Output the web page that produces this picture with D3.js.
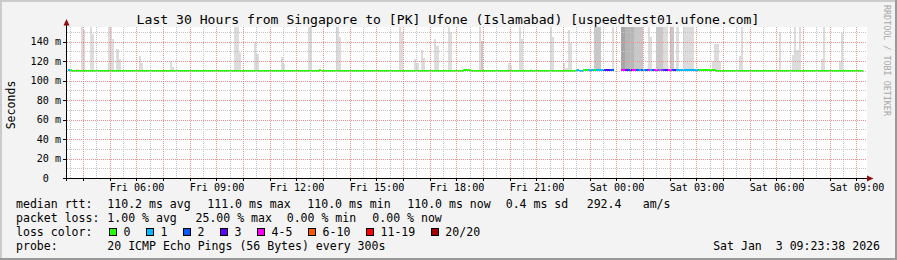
<!doctype html>
<html>
<head>
<meta charset="utf-8">
<title>Smokeping</title>
<script src="https://d3js.org/d3.v7.min.js"></script>
<style>
  body { margin: 0; background: #fff; }
  svg text { font-family: 'DejaVu Sans Mono', monospace; fill: #000; white-space: pre; }
</style>
</head>
<body>
<div id="chart"></div>
<script>
// ---- data ----
const title = 'Last 30 Hours from Singapore to [PK] Ufone (Islamabad) [uspeedtest01.ufone.com]'
const startTime = Date.UTC(2026, 0, 2, 3, 23, 38)
const endTime = Date.UTC(2026, 0, 3, 9, 23, 38)
const firstSlot = Date.UTC(2026, 0, 2, 3, 25, 0)
const slotMinutes = 5
const slotCount = 358
const yTicks = [0, 20, 40, 60, 80, 100, 120, 140]

// median rtt in ms, as runs [fromSlot, toSlot, ms]; slots 246-248 have no data
const medianRuns = [
  [0, 2, 111], [2, 113, 110], [113, 114, 111], [114, 175, 110], [175, 176, 109.5],
  [176, 178, 110], [178, 181, 111], [181, 229, 110], [229, 230, 111], [230, 232, 109.5],
  [232, 246, 111], [249, 292, 111], [292, 358, 110]
]
// lost pings out of 20, as runs [fromSlot, toSlot, lost]; others lost 0
const lossRuns = [
  [0, 1, 1], [229, 232, 1], [234, 237, 1], [238, 241, 1], [241, 242, 2], [242, 244, 3],
  [244, 246, 2], [249, 251, 4], [251, 252, 3], [252, 253, 2], [253, 254, 3], [254, 256, 4],
  [256, 257, 2], [257, 258, 1], [258, 259, 2], [259, 260, 1], [260, 261, 2], [261, 262, 4],
  [262, 263, 1], [263, 264, 2], [264, 266, 4], [266, 267, 1], [267, 268, 4], [268, 269, 2],
  [269, 270, 3], [270, 272, 4], [272, 273, 2], [273, 274, 3], [274, 284, 1]
]
// smoke spikes: slot, highest ping (ms), shade level (0 light .. 3 dark)
const spikeSlot = [4, 6, 7, 10, 11, 18, 19, 20, 22, 23, 32, 33, 46, 47, 75, 76, 77, 84, 85, 96, 97,
  108, 109, 121, 122, 149, 150, 156, 157, 159, 160, 165, 166, 171, 172, 185, 186, 198, 199,
  203, 204, 208, 217, 218, 223, 224, 225, 226, 237, 238, 239, 245, 249, 250, 251, 252, 253,
  254, 255, 256, 257, 258, 261, 262, 265, 266, 267, 268, 269, 271, 272, 274, 277, 278, 279,
  280, 281, 290, 291, 292, 293, 302, 303, 320, 326, 327, 328, 329, 339, 340, 347, 348]
const spikeTop = [112, 155, 152, 155, 148, 155, 155, 143, 132, 122, 125, 118, 120, 114, 155, 155, 128, 140, 127, 124, 117,
  155, 155, 155, 145, 155, 150, 122, 118, 131, 123, 143, 135, 155, 150, 155, 141, 118, 115,
  155, 143, 112, 155, 145, 118, 113, 152, 139, 155, 155, 155, 155, 155, 155, 155, 155, 155,
  155, 155, 155, 155, 155, 155, 145, 155, 155, 155, 155, 155, 155, 155, 155, 155, 155, 155,
  155, 155, 120, 138, 138, 120, 125, 155, 150, 126, 155, 131, 155, 122, 155, 120, 149]
const spikeShade = [0, 0, 0, 0, 0, 0, 0, 0, 0, 0, 0, 0, 0, 0, 0, 0, 0, 0, 0, 0, 0,
  0, 0, 0, 0, 0, 0, 0, 0, 0, 0, 0, 0, 0, 0, 0, 1, 0, 0,
  0, 0, 0, 0, 0, 0, 0, 0, 0, 1, 1, 1, 0, 3, 3, 2, 2, 2,
  2, 1, 1, 1, 1, 0, 0, 1, 1, 1, 0, 0, 1, 1, 0, 0, 0, 0,
  0, 0, 0, 0, 0, 0, 0, 0, 0, 0, 0, 0, 0, 0, 0, 0, 0]

const lossLabels = ['0', '1', '2', '3', '4-5', '6-10', '11-19', '20/20']
const lossColors = ['#26ff00', '#00b8ff', '#0059ff', '#5e00ff', '#ff00ff', '#ff5500', '#ff0000', '#a10000']
const rttStats = ['110.2 ms avg', '111.0 ms max', '110.0 ms min', '110.0 ms now', '0.4 ms sd', '292.4', 'am/s']
const lossStats = ['1.00 % avg', '25.00 % max', '0.00 % min', '0.00 % now']
const probeText = '20 ICMP Echo Pings (56 Bytes) every 300s'
const stampText = 'Sat Jan  3 09:23:38 2026'

// ---- drawing ----
const W = 897, H = 260
const pLeft = 67, pRight = 867, pTop = 27, pBottom = 178
const shades = ['#dcdcdc', '#c8c8c8', '#b6b6b6', '#a6a6a6']

const svg = d3.select('#chart').append('svg').attr('width', W).attr('height', H)

svg.append('rect').attr('width', W).attr('height', H).attr('fill', '#f3f3f3')
svg.append('path').attr('d', `M0,${H} V0 H${W}`).attr('stroke', '#cbcbcb').attr('stroke-width', 4).attr('fill', 'none')
svg.append('path').attr('d', `M0,${H} H${W} V0`).attr('stroke', '#999').attr('stroke-width', 4).attr('fill', 'none')
svg.append('rect').attr('x', pLeft).attr('y', pTop).attr('width', pRight - pLeft).attr('height', pBottom - pTop).attr('fill', '#fff')

const x = d3.scaleUtc().domain([startTime, endTime]).range([pLeft, pRight])
const y = d3.scaleLinear().domain([0, 155]).range([pBottom, pTop])
const slotX = i => Math.round(x(firstSlot + i * slotMinutes * 60000))

svg.append('clipPath').attr('id', 'plot').append('rect')
  .attr('x', pLeft).attr('y', pTop).attr('width', pRight - pLeft).attr('height', pBottom - pTop)
const plot = svg.append('g').attr('clip-path', 'url(#plot)')

// smoke
plot.selectAll('rect.smoke').data(spikeSlot).join('rect').attr('class', 'smoke')
  .attr('shape-rendering', 'crispEdges')
  .attr('x', d => slotX(d))
  .attr('width', d => slotX(d + 1) - slotX(d))
  .attr('y', (d, i) => y(spikeTop[i]))
  .attr('height', (d, i) => y(110) - y(spikeTop[i]))
  .attr('fill', (d, i) => shades[spikeShade[i]])

// grid
const grid = svg.append('g').attr('stroke-dasharray', '1,1').attr('shape-rendering', 'crispEdges')
const minorX = d3.utcMinute.every(30).range(new Date(startTime), new Date(endTime))
const majorX = d3.utcHour.every(1).range(new Date(startTime), new Date(endTime))
grid.selectAll('line.mx').data(minorX).join('line').attr('class', 'mx')
  .attr('x1', d => Math.round(x(d)) + 0.5).attr('x2', d => Math.round(x(d)) + 0.5)
  .attr('y1', pTop).attr('y2', pBottom).attr('stroke', '#c4c4c4')
const minorY = d3.range(10, 155, 20)
grid.selectAll('line.my').data(minorY).join('line').attr('class', 'my')
  .attr('x1', pLeft).attr('x2', pRight)
  .attr('y1', d => Math.round(y(d)) + 0.5).attr('y2', d => Math.round(y(d)) + 0.5).attr('stroke', '#c4c4c4')
grid.selectAll('line.Mx').data(majorX).join('line').attr('class', 'Mx')
  .attr('x1', d => Math.round(x(d)) + 0.5).attr('x2', d => Math.round(x(d)) + 0.5)
  .attr('y1', pTop).attr('y2', pBottom).attr('stroke', '#f29090')
grid.selectAll('line.My').data(yTicks.slice(1)).join('line').attr('class', 'My')
  .attr('x1', pLeft).attr('x2', pRight)
  .attr('y1', d => Math.round(y(d)) + 0.5).attr('y2', d => Math.round(y(d)) + 0.5).attr('stroke', '#f29090')

// median line coloured by loss
const medianBySlot = []
medianRuns.forEach(([a, b, v]) => { for (let i = a; i < b; i++) medianBySlot[i] = v })
const lossBySlot = []
lossRuns.forEach(([a, b, v]) => { for (let i = a; i < b; i++) lossBySlot[i] = v })
const lossIndex = n => n === undefined || n === 0 ? 0 : n <= 3 ? n : n <= 5 ? 4 : n <= 10 ? 5 : n <= 19 ? 6 : 7
const slots = d3.range(slotCount).filter(i => medianBySlot[i] !== undefined)
plot.selectAll('rect.med').data(slots).join('rect').attr('class', 'med')
  .attr('shape-rendering', 'crispEdges')
  .attr('x', d => slotX(d))
  .attr('width', d => slotX(d + 1) - slotX(d))
  .attr('y', d => y(medianBySlot[d]) - 1)
  .attr('height', 2)
  .attr('fill', d => lossColors[lossIndex(lossBySlot[d])])

// axes
const axis = svg.append('g').attr('shape-rendering', 'crispEdges')
axis.append('line').attr('x1', 66.5).attr('x2', 66.5).attr('y1', pBottom + 3).attr('y2', 24).attr('stroke', '#000')
axis.append('line').attr('x1', 63).attr('x2', 868).attr('y1', 178.5).attr('y2', 178.5).attr('stroke', '#000')
axis.selectAll('line.yt').data(yTicks).join('line').attr('class', 'yt')
  .attr('x1', 63).attr('x2', 67)
  .attr('y1', d => Math.round(y(d)) + 0.5).attr('y2', d => Math.round(y(d)) + 0.5).attr('stroke', '#000')
axis.selectAll('line.xt').data(majorX).join('line').attr('class', 'xt')
  .attr('x1', d => Math.round(x(d)) + 0.5).attr('x2', d => Math.round(x(d)) + 0.5)
  .attr('y1', 178).attr('y2', 181).attr('stroke', '#000')
svg.append('path').attr('d', 'M63.5,25.5 L66.5,19 L69.5,25.5 Z').attr('fill', '#8b1010')
svg.append('path').attr('d', 'M867,175.5 L873.5,178.5 L867,181.5 Z').attr('fill', '#8b1010')

svg.selectAll('text.yl').data(yTicks).join('text').attr('class', 'yl')
  .attr('x', d => d === 0 ? 48.8 : 61).attr('y', d => y(d) + 3.6)
  .attr('text-anchor', 'end').attr('font-size', 10.1)
  .text(d => d === 0 ? '0' : d + ' m')

const fmt = d3.utcFormat('%a %H:%M')
svg.selectAll('text.xl').data(d3.utcHour.every(3).range(new Date(startTime), new Date(endTime))).join('text').attr('class', 'xl')
  .attr('x', d => x(d) + 0.5).attr('y', 191)
  .attr('text-anchor', 'middle').attr('font-size', 10.1)
  .text(d => fmt(d))

svg.append('text').attr('x', 448).attr('y', 24).attr('text-anchor', 'middle').attr('font-size', 13.1).text(title)
svg.append('text').attr('transform', 'translate(15,105) rotate(-90)').attr('text-anchor', 'middle')
  .attr('font-size', 11.56).text('Seconds')
svg.append('text').attr('transform', 'translate(884,5) rotate(90)').attr('font-size', 8.4)
  .style('fill', '#a8a8a8').text('RRDTOOL / TOBI OETIKER')

// legend
const fs = 11.56
const legend = svg.append('g').attr('font-size', fs)
legend.append('text').attr('x', 16).attr('y', 208).text('median rtt:')
const rttX = [107.3, 207.3, 307.3, 407.3, 505.7, 586.7, 642.7]
rttStats.forEach((s, i) => legend.append('text').attr('x', rttX[i]).attr('y', 208).text(s))
legend.append('text').attr('x', 16).attr('y', 222).text('packet loss:')
const lossX = [107.3, 195.5, 286.7, 372.3]
lossStats.forEach((s, i) => legend.append('text').attr('x', lossX[i]).attr('y', 222).text(s))
legend.append('text').attr('x', 16).attr('y', 236).text('loss color:')
let bx = 108.7
lossLabels.forEach((lab, i) => {
  legend.append('rect').attr('x', Math.round(bx) + 0.5).attr('y', 228.5).attr('width', 7).attr('height', 7)
    .attr('fill', lossColors[i]).attr('stroke', '#000').attr('shape-rendering', 'crispEdges')
  const t = legend.append('text').attr('x', bx + 14.7).attr('y', 236).text(lab)
  bx = bx + 14.7 + t.node().getComputedTextLength() + 15.4
})
legend.append('text').attr('x', 16).attr('y', 249.5).text('probe:')
legend.append('text').attr('x', 107.3).attr('y', 249.5).text(probeText)
legend.append('text').attr('x', 880).attr('y', 249.5).attr('text-anchor', 'end').text(stampText)
</script>
</body>
</html>
